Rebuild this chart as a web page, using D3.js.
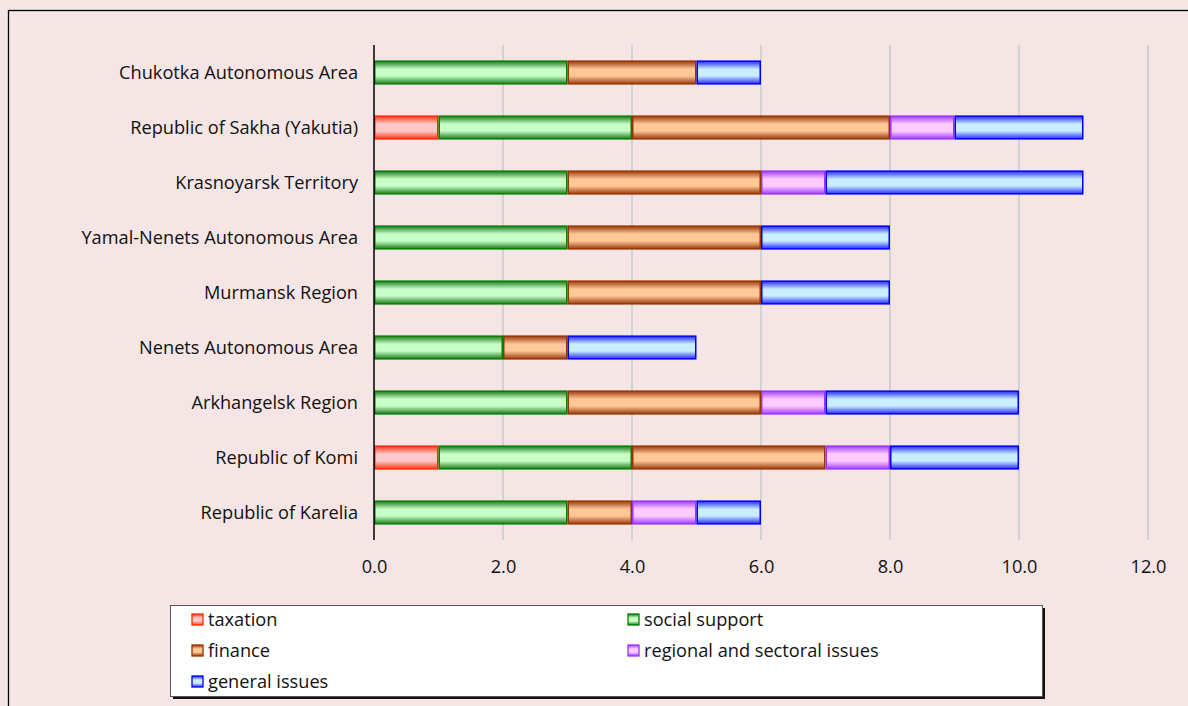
<!DOCTYPE html>
<html><head><meta charset="utf-8">
<script src="https://cdn.jsdelivr.net/npm/d3@7"></script>
<style>
html,body{margin:0;padding:0;background:#f5e5e5;}
svg{display:block;font-family:"Open Sans",sans-serif;}
</style></head><body>
<script>
const categories = ["Chukotka Autonomous Area","Republic of Sakha (Yakutia)","Krasnoyarsk Territory","Yamal-Nenets Autonomous Area","Murmansk Region","Nenets Autonomous Area","Arkhangelsk Region","Republic of Komi","Republic of Karelia"];
const seriesNames = ["taxation","social support","finance","regional and sectoral issues","general issues"];
const taxation =  [0,1,0,0,0,0,0,1,0];
const social =    [3,3,3,3,3,2,3,3,3];
const finance =   [2,4,3,3,3,1,3,3,1];
const regional =  [0,1,1,0,0,0,1,1,1];
const general =   [1,2,4,2,2,2,3,2,1];
const tickValues = [0,2,4,6,8,10,12];

const W=1188,H=706;
const FONT="\"Open Sans\",sans-serif", FS=18.2;
const svg=d3.select("body").append("svg").attr("width",W).attr("height",H);
const styles=[
 {stroke:"#ff2a00",edge:"#ff3a1a",mid:"#ffc8c8"},
 {stroke:"#008000",edge:"#1f7a1f",mid:"#c8ffc8"},
 {stroke:"#993300",edge:"#9a3c10",mid:"#ffc896"},
 {stroke:"#9933ff",edge:"#a040ff",mid:"#ffccff"},
 {stroke:"#0000ff",edge:"#2a2aff",mid:"#c8eeff"}
];
const defs=svg.append("defs");
styles.forEach((s,i)=>{
  const g=defs.append("linearGradient").attr("id","g"+i).attr("x1",0).attr("y1",0).attr("x2",0).attr("y2",1);
  g.append("stop").attr("offset","0%").attr("stop-color",s.edge);
  g.append("stop").attr("offset","35%").attr("stop-color",s.mid);
  g.append("stop").attr("offset","65%").attr("stop-color",s.mid);
  g.append("stop").attr("offset","100%").attr("stop-color",s.edge);
});
svg.append("rect").attr("x",8.5).attr("y",10.5).attr("width",W).attr("height",H).attr("fill","none").attr("stroke","#000").attr("stroke-width",1.3);

const x=d3.scaleLinear().domain([0,12]).range([374,1148]);
const y=d3.scaleBand().domain(categories).range([45,540]).paddingInner(0.56).paddingOuter(0.28);

svg.append("g").selectAll("line").data(tickValues.slice(1)).join("line")
 .attr("x1",d=>x(d)).attr("x2",d=>x(d)).attr("y1",45).attr("y2",540)
 .attr("stroke","#d2d2d2").attr("stroke-width",2);

const seriesArr=[taxation,social,finance,regional,general];
const rows=categories.map((c,i)=>{const o={cat:c};seriesNames.forEach((n,j)=>o[n]=seriesArr[j][i]);return o;});
const stacked=d3.stack().keys(seriesNames)(rows);
stacked.forEach((layer,j)=>{
  svg.append("g").selectAll("rect").data(layer.filter(d=>d[1]-d[0]>0)).join("rect")
   .attr("x",d=>x(d[0])+0.75).attr("width",d=>x(d[1])-x(d[0])-1.5)
   .attr("y",d=>y(d.data.cat)+0.75).attr("height",y.bandwidth()-1.5)
   .attr("fill","url(#g"+j+")").attr("stroke",styles[j].stroke).attr("stroke-width",1.5);
});

svg.append("line").attr("x1",x(0)).attr("x2",x(0)).attr("y1",45).attr("y2",540).attr("stroke","#000").attr("stroke-width",1.5);
svg.append("g").selectAll("text").data(categories).join("text")
 .attr("x",358).attr("y",d=>y(d)+y.bandwidth()/2).attr("dy","0.35em")
 .attr("text-anchor","end").attr("font-size",FS).attr("fill","#111").text(d=>d);
const xa=d3.axisBottom(x).tickValues(tickValues).tickFormat(d3.format(".1f")).tickSize(0).tickPadding(0);
const gx=svg.append("g").attr("transform","translate(0,560)").call(xa);
gx.select(".domain").remove();
gx.selectAll("text").attr("font-size",FS).attr("fill","#111").attr("font-family",FONT);

svg.append("rect").attr("x",173).attr("y",608).attr("width",872).attr("height",91).attr("fill","#111");
svg.append("rect").attr("x",170.5).attr("y",605.5).attr("width",872).attr("height",91).attr("fill","#fff").attr("stroke","#555").attr("stroke-width",1);
const legPos=[[192,620],[628,620],[192,651],[628,651],[192,682]];
seriesNames.forEach((n,j)=>{
  const [lx,ly]=legPos[j];
  svg.append("rect").attr("x",lx).attr("y",ly-6).attr("width",11).attr("height",11)
   .attr("fill","url(#g"+j+")").attr("stroke",styles[j].stroke).attr("stroke-width",1.3);
  svg.append("text").attr("x",lx+16).attr("y",ly).attr("dy","0.35em").attr("font-size",FS).attr("fill","#111").text(n);
});
</script>
</body></html>
